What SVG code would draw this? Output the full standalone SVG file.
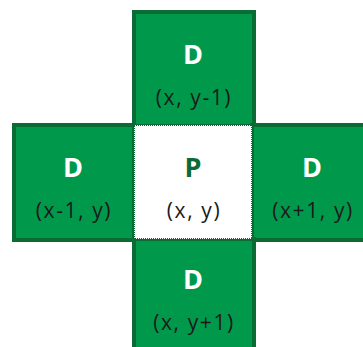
<svg xmlns="http://www.w3.org/2000/svg" width="363" height="347" viewBox="0 0 363 347">
<style>
.cell{fill:#00994c;stroke:#0b6b35;stroke-width:4}
.d{font-family:"Open Sans","Liberation Sans",sans-serif;font-weight:bold;font-size:27px;fill:#ffffff;text-anchor:middle}
.lab{font-family:"Open Sans","Liberation Sans",sans-serif;font-size:21px;fill:#1a1a1a;text-anchor:middle;letter-spacing:1.6px}
.p{font-family:"Open Sans","Liberation Sans",sans-serif;font-weight:bold;font-size:27px;fill:#0b6b35;text-anchor:middle}
</style>
<rect width="363" height="347" fill="#ffffff"/>
<g id="top">
<rect class="cell" x="134" y="12" width="120" height="114"/>
<text class="d" x="193" y="64">D</text>
<text class="lab" x="194" y="105">(x, y-1)</text>
</g>
<g id="left">
<rect class="cell" x="14" y="125" width="120" height="115"/>
<text class="d" x="73" y="177">D</text>
<text class="lab" x="74" y="218">(x-1, y)</text>
</g>
<g id="right">
<rect class="cell" x="252" y="125" width="115" height="115"/>
<text class="d" x="312" y="177">D</text>
<text class="lab" x="313" y="218">(x+1, y)</text>
</g>
<g id="bottom">
<rect class="cell" x="134" y="239" width="120" height="115"/>
<text class="d" x="193" y="289">D</text>
<text class="lab" x="194" y="330">(x, y+1)</text>
</g>
<g id="center">
<rect x="134" y="125" width="118" height="114" fill="#ffffff" stroke="#0b6b35" stroke-width="2" stroke-dasharray="1 1"/>
<rect x="135" y="126" width="116" height="112" fill="#ffffff"/>
<text class="p" x="193" y="177">P</text>
<text class="lab" x="194" y="218">(x, y)</text>
</g>
<g id="connectors"/>
</svg>
